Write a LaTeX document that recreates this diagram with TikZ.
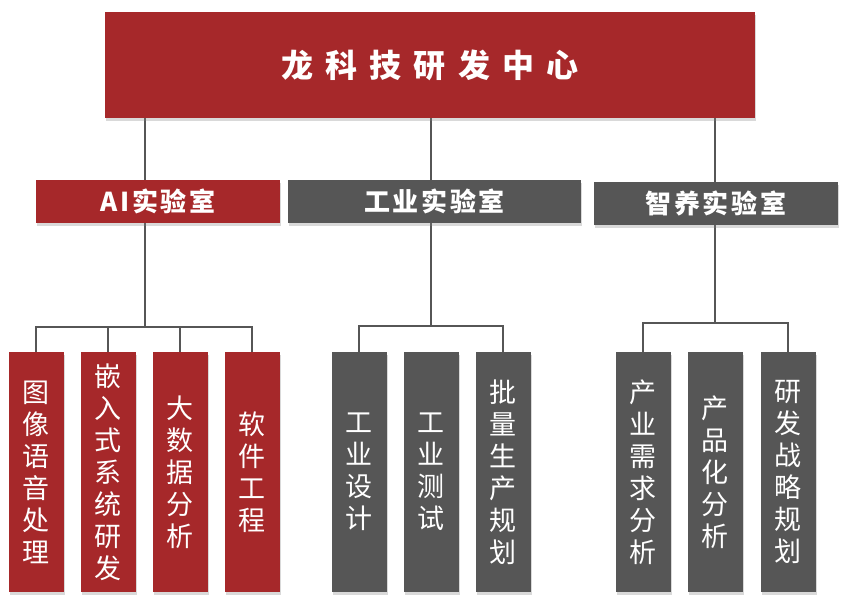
\documentclass[tikz,border=0pt]{standalone}
\usepackage{fontspec}
\setmainfont{Noto Sans CJK SC}
\usetikzlibrary{shadows,backgrounds}
\definecolor{lred}{RGB}{166,40,42}
\definecolor{lgray}{RGB}{86,86,86}
\begin{document}
\begin{tikzpicture}[x=1pt,y=-1pt]
\tikzstyle{line} = [draw=lgray, line width=2.8pt]
\tikzstyle{box} = [text=white, inner sep=0pt, align=center, drop shadow={shadow xshift=1pt, shadow yshift=-3pt, opacity=0.3}]
\tikzstyle{lab} = [box, minimum height=43pt, font=\bfseries\fontsize{26}{30}\selectfont\addfontfeature{LetterSpace=10}]
\tikzstyle{col} = [box, minimum width=55pt, minimum height=240pt, font=\fontsize{27}{32}\selectfont]

\useasboundingbox (0,0) rectangle (860,610);

\node[box, fill=lred, minimum width=650pt, minimum height=106pt,
  font=\bfseries\fontsize{32}{36}\selectfont\addfontfeature{LetterSpace=38}] (Center) at (430,65) {龙科技研发中心};

\node[lab, fill=lred, minimum width=244pt] (AI) at (158,201.5) {AI实验室};
\node[lab, fill=lgray, minimum width=293pt] (Gongye) at (434.5,201.5) {工业实验室};
\node[lab, fill=lgray, minimum width=244pt] (Zhiyang) at (716,203.5) {智养实验室};

\node[col, fill=lred] (ai1) at (36,472) {图\\像\\语\\音\\处\\理};
\node[col, fill=lred] (ai2) at (108,472) {嵌\\入\\式\\系\\统\\研\\发};
\node[col, fill=lred] (ai3) at (180,472) {大\\数\\据\\分\\析};
\node[col, fill=lred] (ai4) at (252,472) {软\\件\\工\\程};

\node[col, fill=lgray] (gy1) at (359,472) {工\\业\\设\\计};
\node[col, fill=lgray] (gy2) at (431,472) {工\\业\\测\\试};
\node[col, fill=lgray] (gy3) at (503,472) {批\\量\\生\\产\\规\\划};

\node[col, fill=lgray] (zy1) at (643,472) {产\\业\\需\\求\\分\\析};
\node[col, fill=lgray] (zy2) at (715,472) {产\\品\\化\\分\\析};
\node[col, fill=lgray] (zy3) at (788,472) {研\\发\\战\\略\\规\\划};

\coordinate (AIbar) at (145,327);
\coordinate (GYbar) at (431,326);
\coordinate (ZYbar) at (715,323);

\begin{scope}[on background layer]
\draw[line] (Center.south -| AIbar) -- (AIbar);
\draw[line] (Center.south -| GYbar) -- (GYbar);
\draw[line] (Center.south -| ZYbar) -- (ZYbar);
\draw[line] (ai1.north) |- (AIbar) -| (ai4.north);
\foreach \n in {ai2,ai3}
  \draw[line] (\n.north) -- (\n.north |- AIbar);
\draw[line] (gy1.north) |- (GYbar) -| (gy3.north);
\draw[line] (zy1.north) |- (ZYbar) -| (zy3.north);
\end{scope}

\end{tikzpicture}
\end{document}
